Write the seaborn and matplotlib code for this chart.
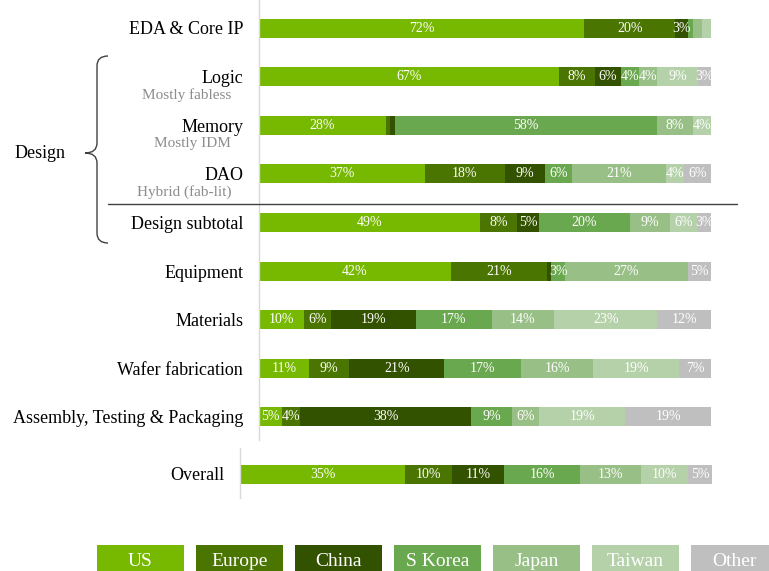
import numpy as np
import pandas as pd
import matplotlib
matplotlib.use("Agg")
import matplotlib.pyplot as plt
from matplotlib.path import Path
from matplotlib.patches import PathPatch, Rectangle
from matplotlib.lines import Line2D
import seaborn as sns

# categories (rows) and regions (stacks)
segments = ["EDA & Core IP", "Logic", "Memory", "DAO", "Design subtotal",
            "Equipment", "Materials", "Wafer fabrication",
            "Assembly, Testing & Packaging"]
sublabels = {"Logic": "Mostly fabless", "Memory": "Mostly IDM",
             "DAO": "Hybrid (fab-lit)"}
regions = ["US", "Europe", "China", "S Korea", "Japan", "Taiwan", "Other"]
colors = ["#76b900", "#4a7500", "#325200", "#6aa84f", "#97bf86", "#b5d1a9", "#bfbfbf"]

# value share (%) per segment
us = [72, 67, 28, 37, 49, 42, 10, 11, 5]
europe = [20, 8, 1, 18, 8, 21, 6, 9, 4]
china = [3, 6, 1, 9, 5, 1, 19, 21, 38]
skorea = [1, 4, 58, 6, 20, 3, 17, 17, 9]
japan = [2, 4, 8, 21, 9, 27, 14, 16, 6]
taiwan = [2, 9, 4, 4, 6, 0, 23, 19, 19]
other = [0, 3, 0, 6, 3, 5, 12, 7, 19]

overall_label = "Overall"
overall = [35, 10, 11, 16, 13, 10, 5]

W, H = 769, 571
sns.set_style("white")
plt.rcParams["font.family"] = ["Liberation Serif", "DejaVu Serif"]
plt.rcParams["text.color"] = "black"
plt.rcParams["ytick.color"] = "black"

df = pd.DataFrame({"US": us, "Europe": europe, "China": china, "S Korea": skorea,
                   "Japan": japan, "Taiwan": taiwan, "Other": other}, index=segments)
df_all = pd.DataFrame([overall], columns=regions, index=[overall_label])

fig = plt.figure(figsize=(W / 100, H / 100), dpi=100)


def fx(px):
    return px / W


def fy(py):
    return 1 - py / H


def stacked(ax, data, row_px=48.6):
    widths = data.div(data.sum(axis=1), axis=0) * 100
    names = list(data.index)
    # draw cumulative bars from the back so each region shows as a segment
    for k in reversed(range(len(regions))):
        cum = widths.iloc[:, :k + 1].sum(axis=1)
        sns.barplot(x=cum.values, y=names, color=colors[k], orient="h",
                    width=19 / row_px, saturation=1, linewidth=0,
                    errorbar=None, ax=ax)
    for i, name in enumerate(names):
        left = 0
        for r in regions:
            v = data.loc[name, r]
            w = widths.loc[name, r]
            if v >= 3:
                ax.text(left + w / 2, i, f"{v}%", ha="center", va="center",
                        color="white", fontsize=10)
            left += w
    ax.set_xlim(0, 100)
    ax.set_xlabel("")
    ax.set_ylabel("")
    ax.set_xticks([])
    ax.tick_params(axis="y", length=0, pad=11.5, labelsize=13, labelcolor="black")
    for s in ["top", "right", "bottom"]:
        ax.spines[s].set_visible(False)
    ax.spines["left"].set_color("#d9d9d9")
    ax.spines["left"].set_linewidth(1)


# main panel
ax = fig.add_axes([fx(259), fy(440), fx(452), 440 / H])
stacked(ax, df)
ax.set_ylim((440 - 28) / 48.6, -28 / 48.6)
for i, name in enumerate(segments):
    if name in sublabels:
        ax.annotate(sublabels[name], xy=(0, i), xycoords=("axes fraction", "data"),
                    xytext=(-20, -13), textcoords="offset points",
                    ha="right", va="center", fontsize=11, color="#8c8c8c")

# overall panel
ax2 = fig.add_axes([fx(240), fy(498), fx(472), 50 / H])
stacked(ax2, df_all)
ax2.set_ylim(24 / 48.6, -26 / 48.6)

# separator between design rows and subtotal
fig.add_artist(Line2D([fx(108), fx(737)], [fy(204), fy(204)],
                      color="#404040", lw=1))

# brace around design rows
verts = [(108, 56), (97, 56), (97, 66), (97, 143), (97, 153), (85, 153),
         (97, 153), (97, 163), (97, 233), (97, 243), (108, 243)]
codes = [Path.MOVETO, Path.CURVE3, Path.CURVE3, Path.LINETO, Path.CURVE3,
         Path.CURVE3, Path.CURVE3, Path.CURVE3, Path.LINETO, Path.CURVE3, Path.CURVE3]
brace = Path([(fx(x), fy(y)) for x, y in verts], codes)
fig.add_artist(PathPatch(brace, transform=fig.transFigure, fill=False,
                         edgecolor="#404040", lw=1))
fig.text(fx(15), fy(153), "Design", ha="left", va="center", fontsize=13)

# legend boxes along the bottom
for i, (r, c) in enumerate(zip(regions, colors)):
    x0 = 97 + 99 * i
    fig.add_artist(Rectangle((fx(x0), fy(571)), fx(87), 26 / H,
                             transform=fig.transFigure, facecolor=c, edgecolor="none"))
    fig.text(fx(x0 + 43.5), fy(559), r, ha="center", va="center_baseline",
             color="white", fontsize=14)

fig.savefig("out.png", dpi=100)
